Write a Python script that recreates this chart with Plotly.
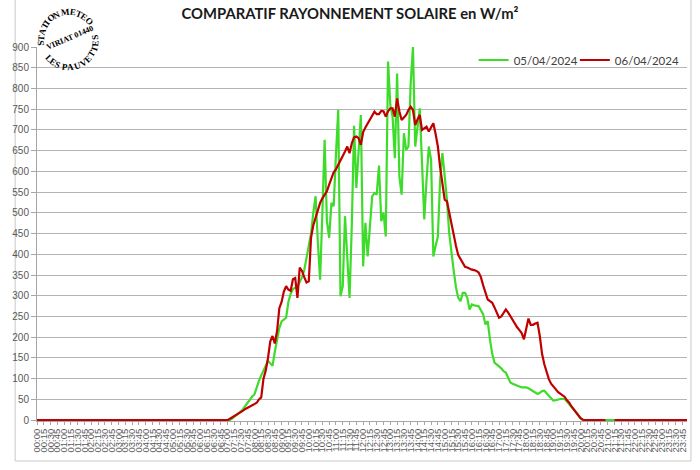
import math
import plotly.graph_objects as go

# ---------------- data ----------------
times = [f"{h:02d}:{m:02d}" for h in range(24) for m in range(0, 60, 5)]
tick_labels = [f"{h:02d}:{m:02d}" for h in range(24) for m in (0, 15, 30, 45)]
y_ticks = list(range(0, 901, 50))

series_names = ["05/04/2024", "06/04/2024"]

# 05/04/2024 (W/m², one value every 5 min, one row per hour)
rad_0504 = [
    0, 0, 0, 0, 0, 0, 0, 0, 0, 0, 0, 0,  # 00
    0, 0, 0, 0, 0, 0, 0, 0, 0, 0, 0, 0,  # 01
    0, 0, 0, 0, 0, 0, 0, 0, 0, 0, 0, 0,  # 02
    0, 0, 0, 0, 0, 0, 0, 0, 0, 0, 0, 0,  # 03
    0, 0, 0, 0, 0, 0, 0, 0, 0, 0, 0, 0,  # 04
    0, 0, 0, 0, 0, 0, 0, 0, 0, 0, 0, 0,  # 05
    0, 0, 0, 0, 0, 0, 0, 0, 0, 0, 0, 0,  # 06
    0, 0, 3, 7, 11, 16, 21, 27, 35, 43, 50, 57,  # 07
    62, 80, 95, 108, 119, 128, 143, 137, 131, 165, 190, 222,  # 08
    238, 243, 247, 285, 305, 316, 320, 323, 333, 345, 362, 392,  # 09
    420, 450, 500, 540, 430, 339, 500, 676, 480, 440, 524, 516,  # 10
    640, 748, 299, 323, 492, 400, 295, 470, 710, 560, 652, 736,  # 11
    371, 476, 395, 470, 540, 548, 544, 614, 480, 500, 443, 865,  # 12
    760, 732, 632, 836, 588, 544, 692, 652, 660, 812, 900, 660,  # 13
    700, 752, 620, 484, 580, 660, 628, 395, 420, 443, 580, 644,  # 14
    590, 532, 451, 400, 360, 320, 295, 287, 307, 307, 295, 267,  # 15
    279, 277, 276, 275, 265, 255, 231, 239, 195, 160, 139, 135,  # 16
    131, 125, 118, 115, 103, 91, 88, 85, 83, 81, 79, 79,  # 17
    79, 77, 73, 70, 66, 63, 66, 70, 71, 64, 59, 53,  # 18
    47, 48, 50, 51, 51, 51, 45, 39, 33, 26, 19, 12,  # 19
    5, 1, 0, 0, 0, 0, 0, 0, 0, 0, 0, 0,  # 20
    0, 0, 0, 0, 0, 0, 0, 0, 0, 0, 0, 0,  # 21
    0, 0, 0, 0, 0, 0, 0, 0, 0, 0, 0, 0,  # 22
    0, 0, 0, 0, 0, 0, 0, 0, 0, 0, 0, 0,  # 23
]

# 06/04/2024 (W/m², one value every 5 min, one row per hour; None = missing)
rad_0604 = [
    0, 0, 0, 0, 0, 0, 0, 0, 0, 0, 0, 0,  # 00
    0, 0, 0, 0, 0, 0, 0, 0, 0, 0, 0, 0,  # 01
    0, 0, 0, 0, 0, 0, 0, 0, 0, 0, 0, 0,  # 02
    0, 0, 0, 0, 0, 0, 0, 0, 0, 0, 0, 0,  # 03
    0, 0, 0, 0, 0, 0, 0, 0, 0, 0, 0, 0,  # 04
    0, 0, 0, 0, 0, 0, 0, 0, 0, 0, 0, 0,  # 05
    0, 0, 0, 0, 0, 0, 0, 0, 0, 0, 0, 0,  # 06
    0, 3, 6, 10, 12, 16, 20, 23, 27, 30, 33, 35,  # 07
    38, 42, 50, 55, 100, 120, 150, 190, 203, 185, 215, 270,  # 08
    285, 310, 323, 315, 312, 340, 343, 295, 368, 360, 345, 332,  # 09
    335, 440, 470, 487, 505, 524, 535, 545, 552, 568, 583, 598,  # 10
    605, 615, 625, 635, 648, 660, 644, 668, 682, 684, 680, 664,  # 11
    695, 706, 715, 725, 732, 744, 738, 738, 746, 745, 732, 745,  # 12
    752, 752, 732, 776, 745, 724, 730, 736, 748, 756, 748, 712,  # 13
    725, 736, 700, 705, 708, 696, 705, 716, 690, 660, 610, 570,  # 14
    532, 528, 500, 470, 440, 420, 398, 388, 378, 370, 368, 365,  # 15
    363, 362, 360, 356, 345, 325, 310, 291, 287, 283, 272, 258,  # 16
    247, 250, 258, 267, 260, 251, 240, 230, 224, 217, 210, 195,  # 17
    220, 245, 230, 230, 233, 235, 203, 160, 135, 115, 99, 88,  # 18
    80, 75, 68, 64, 60, 56, 48, 42, 33, 26, 19, 12,  # 19
    5, 1, 0, 0, 0, 0, 0, 0, 0, 0, 0, 0,  # 20
    None, None, None, 0, 0, 0, 0, 0, 0, 0, 0, 0,  # 21
    0, 0, 0, 0, 0, 0, 0, 0, 0, 0, 0, 0,  # 22
    0, 0, 0, 0, 0, 0, 0, 0, 0, 0, 0, 0,  # 23
]

title_text = "COMPARATIF RAYONNEMENT SOLAIRE en W/m²"
logo_top = "STATION METEO"
logo_mid = "VIRIAT 01440"
logo_bottom = "LES PAUVETTES"

# ---------------- layout geometry (pixels) ----------------
W, H = 700, 470
L, R, T, B = 32, 687, 47, 421


def px(x):
    return (x - L) / (R - L)


def py(y):
    return (B - y) / (B - T)


fig = go.Figure()
fig.add_trace(go.Scatter(x=times, y=rad_0504, mode="lines", name=series_names[0],
                         line=dict(color="#3EDC2A", width=2.2), legend="legend"))
fig.add_trace(go.Scatter(x=times, y=rad_0604, mode="lines", name=series_names[1],
                         line=dict(color="#C00000", width=2.2), legend="legend2"))

# ---- logo: circular stamp text (approximate Times-Bold glyph widths, em units) ----
glyph_w = {"S": .556, "T": .667, "A": .722, "I": .389, "O": .778, "N": .722, " ": .25,
           "M": .944, "E": .667, "V": .722, "R": .722, "L": .667, "P": .611, "U": .722}
fs = 9
serif = dict(family="Liberation Serif", size=fs, color="#000000")
cx, cy = 64, 40
annotations = []


def arc_text(text, center_deg, radius, clockwise):
    widths = [glyph_w.get(c, .5) * fs for c in text]
    total = sum(widths)
    span = math.degrees(total / radius)
    pos = -total / 2
    for c, w in zip(text, widths):
        mid = pos + w / 2
        pos += w
        d = math.degrees(mid / radius)
        th = center_deg - d if clockwise else center_deg + d
        x = cx + radius * math.cos(math.radians(th))
        y = cy - radius * math.sin(math.radians(th))
        ang = 90 - th if clockwise else 270 - th
        if c != " ":
            annotations.append(dict(x=px(x), y=py(y), xref="paper", yref="paper",
                                    text=f"<b>{c}</b>", showarrow=False, textangle=ang,
                                    font=serif, xanchor="center", yanchor="middle"))
    return span


arc_text(logo_top, 114, 28, clockwise=True)
arc_text(logo_bottom, 293, 27, clockwise=False)
annotations.append(dict(x=px(65.5), y=py(38), xref="paper", yref="paper", text=f"<b>{logo_mid}</b>",
                        showarrow=False, textangle=-23,
                        font=dict(family="Liberation Serif", size=8, color="#000000"),
                        xanchor="center", yanchor="middle"))

legend_font = dict(family="Lato", size=11.5, color="#404040")
fig.update_layout(
    width=W, height=H,
    margin=dict(l=L, r=W - R, t=T, b=H - B),
    paper_bgcolor="white", plot_bgcolor="white",
    title=dict(text=f"<b>{title_text}</b>", x=0.5, xref="container", xanchor="center",
               y=1 - 14 / H, yref="container", yanchor="middle",
               font=dict(family="Lato", size=14.8, color="#1a1a1a")),
    showlegend=True,
    legend=dict(orientation="h", x=px(472), y=py(60), xanchor="left", yanchor="middle",
                font=legend_font, bgcolor="rgba(0,0,0,0)", itemwidth=30),
    legend2=dict(orientation="h", x=px(574), y=py(60), xanchor="left", yanchor="middle",
                 font=legend_font, bgcolor="rgba(0,0,0,0)", itemwidth=30),
    xaxis=dict(type="category", range=[0, len(times) - 1], tickmode="array",
               tickvals=tick_labels, ticktext=tick_labels, tickangle=-90,
               tickfont=dict(family="Liberation Sans", size=9.5, color="#595959"),
               ticks="outside", ticklen=3, tickcolor="#a6a6a6",
               showline=True, linecolor="#a6a6a6", linewidth=1,
               showgrid=False, zeroline=False),
    yaxis=dict(range=[-2, 900], tickmode="array", tickvals=y_ticks,
               tickfont=dict(family="Liberation Sans", size=10, color="#595959"),
               ticks="outside", ticklen=5, tickcolor="#a6a6a6",
               showline=True, linecolor="#a6a6a6", linewidth=1,
               showgrid=True, gridcolor="#b4b4b4", gridwidth=1, zeroline=False),
    annotations=annotations,
    shapes=[dict(type="rect", xref="paper", yref="paper",
                 x0=px(10), x1=px(691), y0=py(461), y1=py(-5),
                 line=dict(color="#c8c8c8", width=1), fillcolor="rgba(0,0,0,0)", layer="below")],
)

fig.write_html("out.html")
